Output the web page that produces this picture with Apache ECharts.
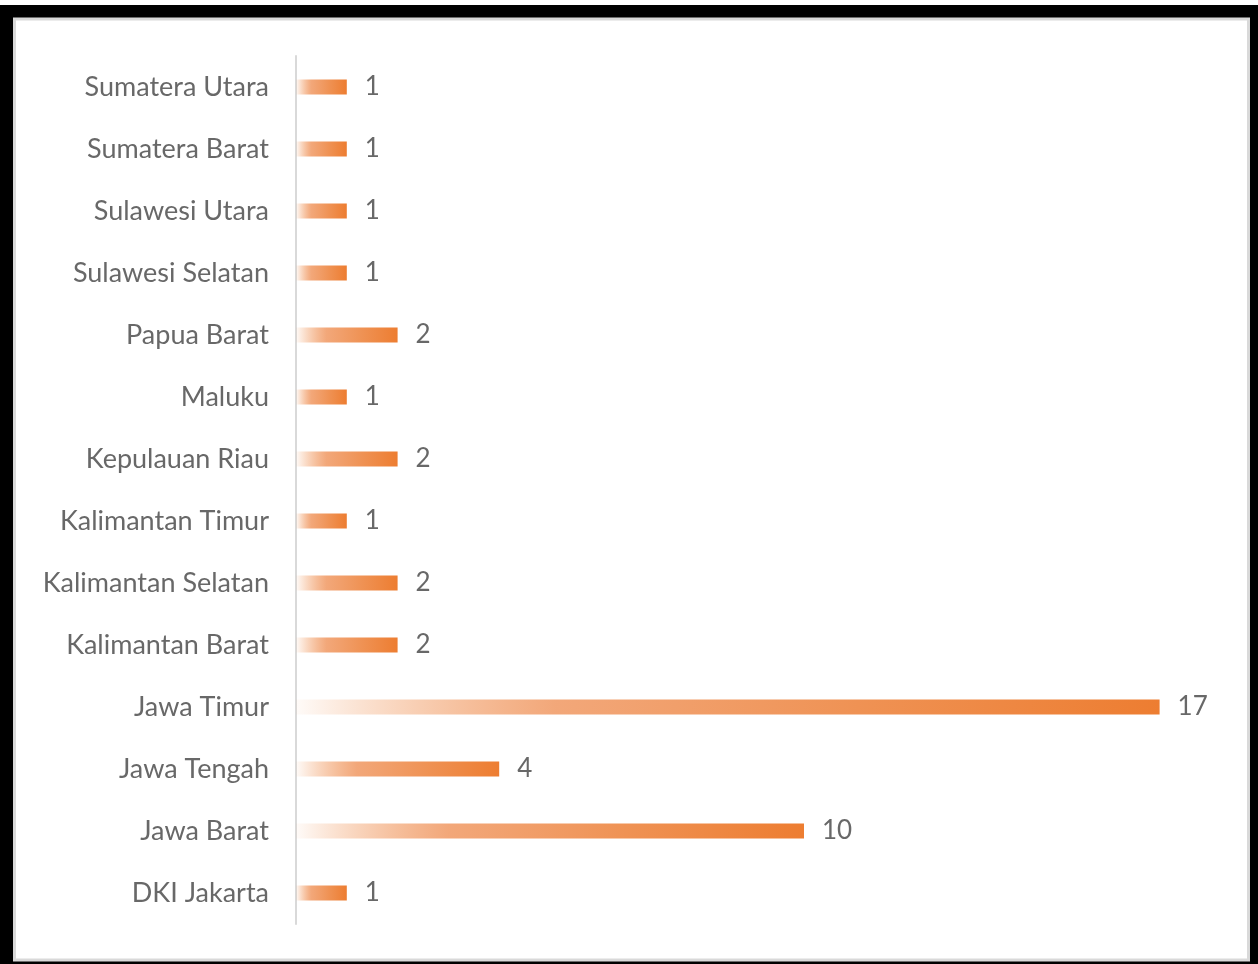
<!DOCTYPE html>
<html>
<head>
<meta charset="utf-8">
<script src="https://cdn.jsdelivr.net/npm/echarts@6/dist/echarts.min.js"></script>
<style>
  html, body { margin: 0; padding: 0; background: #ffffff; }
  #chart { width: 1258px; height: 964px; }
</style>
</head>
<body>
<div id="chart"></div>
<script>
// Provinces, listed top to bottom
const provinces = [
  'Sumatera Utara', 'Sumatera Barat', 'Sulawesi Utara', 'Sulawesi Selatan',
  'Papua Barat', 'Maluku', 'Kepulauan Riau', 'Kalimantan Timur',
  'Kalimantan Selatan', 'Kalimantan Barat', 'Jawa Timur', 'Jawa Tengah',
  'Jawa Barat', 'DKI Jakarta'
];
// Count per province
const counts = [1, 1, 1, 1, 2, 1, 2, 1, 2, 2, 17, 4, 10, 1];

const chart = echarts.init(document.getElementById('chart'), null, { renderer: 'canvas' });

const barFill = new echarts.graphic.LinearGradient(0, 0, 1, 0, [
  { offset: 0, color: 'rgba(237,125,49,0.03)' },
  { offset: 0.3, color: 'rgba(240,152,98,0.85)' },
  { offset: 0.65, color: '#EF9254' },
  { offset: 1, color: '#ED7D31' }
]);

const textColor = '#686868';

chart.setOption({
  backgroundColor: '#ffffff',
  animation: false,
  graphic: [
    {
      type: 'rect', z: -100, silent: true,
      shape: { x: 0, y: 5, width: 1258, height: 959 },
      style: { fill: '#000000' }
    },
    {
      type: 'rect', z: -99, silent: true,
      shape: { x: 14.5, y: 19, width: 1234, height: 941 },
      style: { fill: '#ffffff', stroke: '#D9D9D9', lineWidth: 3 }
    }
  ],
  grid: { left: 296, right: 47.6, top: 56, bottom: 40, containLabel: false },
  xAxis: {
    type: 'value', min: 0, max: 18, show: false
  },
  yAxis: {
    type: 'category',
    data: provinces,
    inverse: true,
    axisLine: { show: true, lineStyle: { color: '#D9D9D9', width: 2 } },
    axisTick: { show: false },
    axisLabel: {
      color: textColor, fontFamily: 'Lato', fontSize: 27, margin: 27
    },
    splitLine: { show: false }
  },
  series: [{
    type: 'bar',
    data: counts,
    barWidth: 15,
    itemStyle: { color: barFill },
    label: {
      show: true, position: 'right', distance: 18,
      color: textColor, fontFamily: 'Lato', fontSize: 26
    }
  }]
});
</script>
</body>
</html>
